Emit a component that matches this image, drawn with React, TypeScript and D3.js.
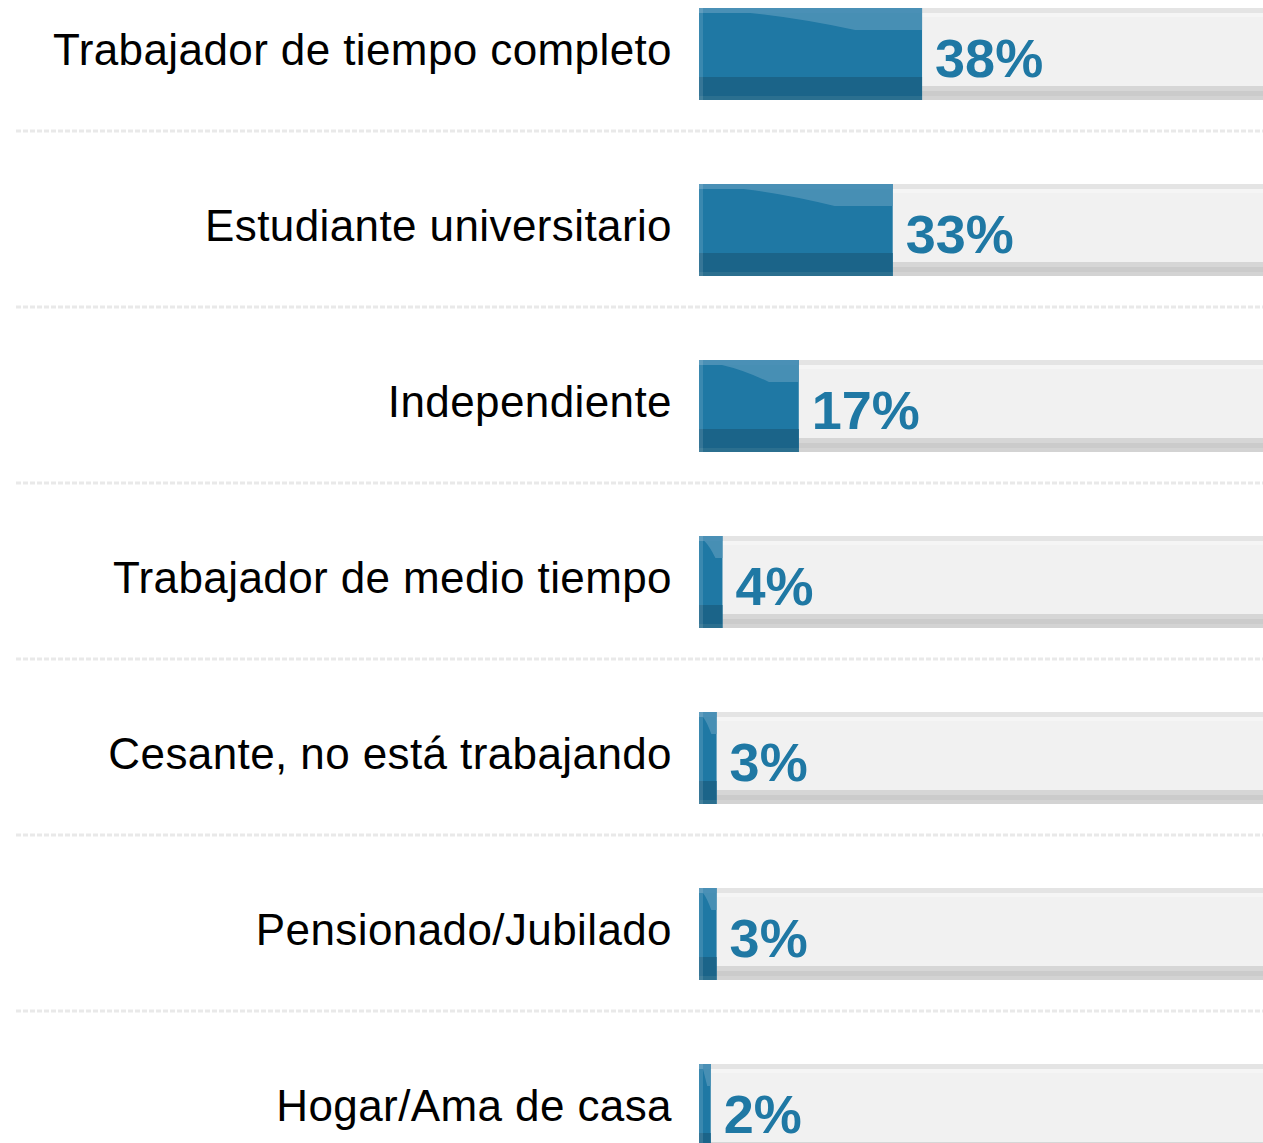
import * as d3 from 'd3';

// survey answers, top to bottom
const categories = [
  'Trabajador de tiempo completo',
  'Estudiante universitario',
  'Independiente',
  'Trabajador de medio tiempo',
  'Cesante, no está trabajando',
  'Pensionado/Jubilado',
  'Hogar/Ama de casa',
];
const percents = [38, 33, 17, 4, 3, 3, 2];

const W = 1263;
const H = 1143;
const barX = 699;
const barH = 92;
const blue = '#1f78a4';

const App = () => {
  const y = d3.scaleBand<string>()
    .domain(categories)
    .range([8, 8 + 176 * categories.length])
    .paddingInner(0)
    .paddingOuter(0);

  const x = d3.scaleLinear().domain([0, 100]).range([0, 587]);

  return (
    <svg width={W} height={H} style={{ position: 'absolute', left: 0, top: 0, background: '#fff' }}>
      {categories.map((c, i) => {
        const top = y(c)!;
        const w = x(percents[i]);
        // glossy highlight on the top of the blue bar
        const hx0 = barX + Math.max(4, w * 0.23);
        const hx1 = barX + Math.max(8, w * 0.7);
        const hl = `M${hx0},${top + 5} L${barX + w},${top + 5} L${barX + w},${top + 22} L${hx1},${top + 22} Q${barX + w * 0.45},${top + 10} ${hx0},${top + 5} Z`;
        return (
          <g key={c}>
            {/* track */}
            <rect x={barX} y={top} width={x(100)} height={barH} fill="#f1f1f1" />
            <rect x={barX} y={top} width={x(100)} height={5} fill="#e4e4e4" />
            <rect x={barX} y={top + 5} width={x(100)} height={4} fill="#f5f5f5" />
            <rect x={barX} y={top + 78} width={x(100)} height={5} fill="#d6d6d6" />
            <rect x={barX} y={top + 83} width={x(100)} height={5} fill="#cbcbcb" />
            <rect x={barX} y={top + 88} width={x(100)} height={4} fill="#d3d3d3" />
            {/* value bar */}
            <rect x={barX} y={top} width={w} height={barH} fill={blue} />
            <rect x={barX} y={top} width={w} height={5} fill="#4a90b6" />
            <path d={hl} fill="#4f93b7" opacity={0.85} />
            <rect x={barX} y={top + 69} width={w} height={19} fill="#1b6489" />
            <rect x={barX} y={top + 88} width={w} height={4} fill="#2b6f8f" />
            <rect x={barX} y={top} width={4} height={barH} fill="#ffffff" opacity={0.12} />
            {/* label */}
            <text
              x={672}
              y={top + 57}
              textAnchor="end"
              fontFamily="'Liberation Sans', sans-serif"
              fontSize={44}
              letterSpacing={0.4}
              fill="#000"
            >
              {c}
            </text>
            <text
              x={barX + w + 13}
              y={top + 69}
              fontFamily="'Liberation Sans', sans-serif"
              fontWeight="bold"
              fontSize={54}
              fill={blue}
            >
              {percents[i]}%
            </text>
            {i < categories.length - 1 && (
              <line
                x1={16}
                x2={W}
                y1={top + 123}
                y2={top + 123}
                stroke="#e9e9e9"
                strokeWidth={3}
                strokeDasharray="5 2"
              />
            )}
          </g>
        );
      })}
    </svg>
  );
};

export default App;
